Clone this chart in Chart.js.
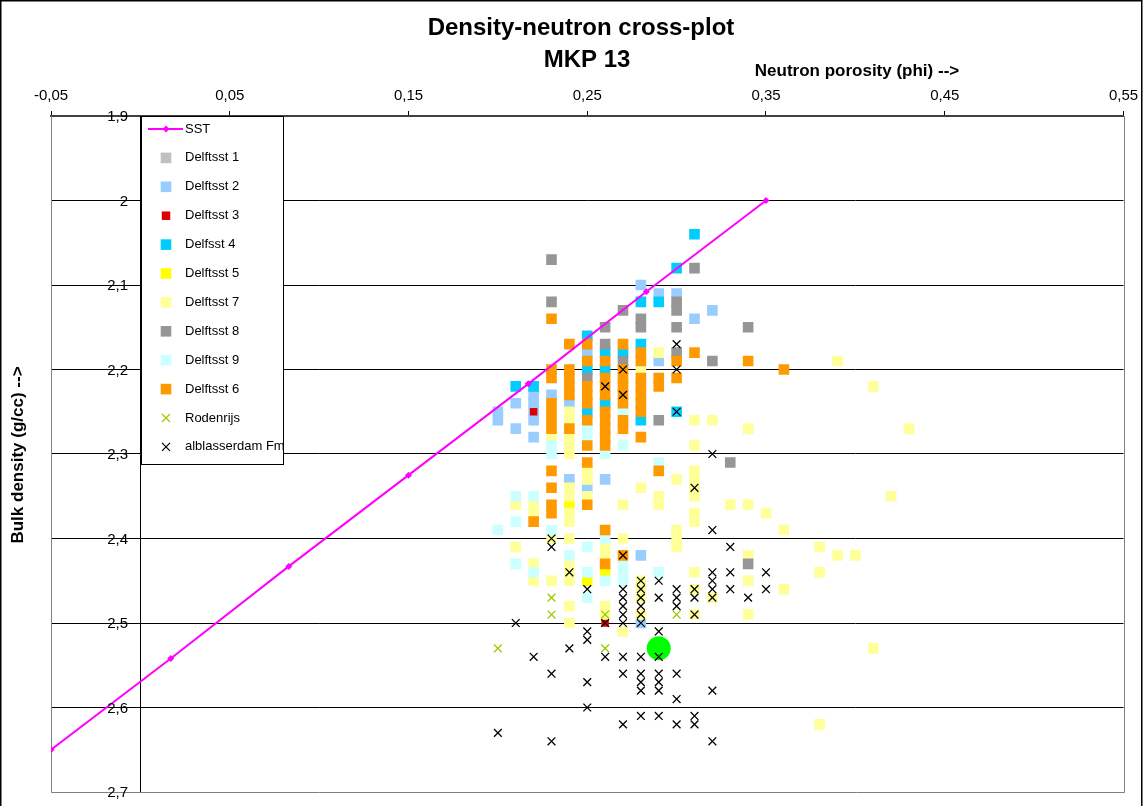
<!DOCTYPE html>
<html>
<head>
<meta charset="utf-8">
<title>Density-neutron cross-plot MKP 13</title>
<script src="https://cdn.jsdelivr.net/npm/chart.js@4.4.1/dist/chart.umd.min.js"></script>
<style>
  html, body { margin: 0; padding: 0; background: #fff; }
  #wrap { position: relative; width: 1146px; height: 806px; }
</style>
</head>
<body>
<div id="wrap"><canvas id="chart" width="1146" height="806"></canvas></div>
<script>
const FONT = '"Liberation Sans", Arial, sans-serif';

// axis ticks
const xTicks = [-0.05, 0.05, 0.15, 0.25, 0.35, 0.45, 0.55];
const xTickLabels = ['-0,05', '0,05', '0,15', '0,25', '0,35', '0,45', '0,55'];
const yTicks = [1.9, 2.0, 2.1, 2.2, 2.3, 2.4, 2.5, 2.6, 2.7];
const yTickLabels = ['1,9', '2', '2,1', '2,2', '2,3', '2,4', '2,5', '2,6', '2,7'];

// sandstone line
const sstX = [-0.05, 0.017, 0.083, 0.15, 0.217, 0.283, 0.35];
const sstY = [2.65, 2.542, 2.433, 2.325, 2.217, 2.108, 2.0];

// samples [phi, rhob]
const delftsst1 = [];
const delftsst2 = [[0.20,2.25],[0.20,2.26],[0.21,2.24],[0.21,2.27],[0.22,2.23],[0.22,2.24],[0.22,2.25],[0.22,2.26],
  [0.22,2.28],[0.23,2.23],[0.24,2.24],[0.24,2.33],[0.25,2.18],[0.25,2.34],[0.26,2.33],[0.28,2.10],[0.28,2.42],
  [0.28,2.50],[0.29,2.11],[0.29,2.19],[0.30,2.11],[0.31,2.14],[0.32,2.13]];
const delftsst3 = [[0.22,2.25],[0.26,2.50]];
const delfsst4 = [[0.21,2.22],[0.22,2.22],[0.25,2.16],[0.25,2.20],[0.25,2.25],[0.26,2.18],[0.26,2.20],[0.26,2.24],
  [0.27,2.18],[0.28,2.12],[0.28,2.17],[0.28,2.26],[0.29,2.12],[0.30,2.08],[0.30,2.25],[0.31,2.04]];
const delftsst5 = [[0.24,2.36],[0.25,2.45],[0.26,2.44]];
const delftsst7 = [[0.21,2.36],[0.21,2.41],[0.22,2.36],[0.22,2.37],[0.22,2.43],[0.22,2.45],[0.23,2.28],[0.23,2.40],
  [0.23,2.45],[0.24,2.25],[0.24,2.26],[0.24,2.28],[0.24,2.29],[0.24,2.30],[0.24,2.34],[0.24,2.35],[0.24,2.37],
  [0.24,2.38],[0.24,2.40],[0.24,2.43],[0.24,2.44],[0.24,2.45],[0.24,2.48],[0.24,2.50],[0.25,2.32],[0.25,2.33],
  [0.25,2.35],[0.26,2.41],[0.26,2.42],[0.26,2.48],[0.26,2.49],[0.27,2.36],[0.27,2.40],[0.27,2.51],[0.28,2.20],
  [0.28,2.34],[0.28,2.45],[0.28,2.46],[0.28,2.47],[0.28,2.49],[0.29,2.18],[0.29,2.35],[0.29,2.36],[0.30,2.33],
  [0.30,2.39],[0.30,2.40],[0.30,2.41],[0.31,2.26],[0.31,2.29],[0.31,2.32],[0.31,2.33],[0.31,2.34],[0.31,2.35],
  [0.31,2.37],[0.31,2.38],[0.31,2.44],[0.31,2.46],[0.31,2.49],[0.32,2.26],[0.32,2.47],[0.33,2.36],[0.34,2.27],
  [0.34,2.36],[0.34,2.42],[0.34,2.45],[0.34,2.49],[0.35,2.37],[0.36,2.39],[0.36,2.46],[0.38,2.41],[0.38,2.44],
  [0.38,2.62],[0.39,2.19],[0.39,2.42],[0.40,2.42],[0.41,2.22],[0.41,2.53],[0.42,2.35],[0.43,2.27]];
const delftsst8 = [[0.23,2.07],[0.23,2.12],[0.25,2.21],[0.26,2.15],[0.26,2.17],[0.27,2.13],[0.27,2.19],[0.28,2.14],
  [0.28,2.15],[0.29,2.26],[0.30,2.12],[0.30,2.13],[0.30,2.15],[0.30,2.18],[0.31,2.08],[0.32,2.19],[0.33,2.31],
  [0.34,2.15],[0.34,2.43]];
const delftsst9 = [[0.20,2.39],[0.21,2.35],[0.21,2.38],[0.21,2.43],[0.22,2.35],[0.22,2.44],[0.23,2.29],[0.23,2.30],
  [0.23,2.39],[0.24,2.42],[0.25,2.27],[0.25,2.28],[0.25,2.41],[0.25,2.44],[0.25,2.47],[0.26,2.30],[0.26,2.40],
  [0.26,2.45],[0.27,2.25],[0.27,2.29],[0.27,2.43],[0.27,2.44],[0.27,2.45],[0.29,2.31],[0.29,2.44]];
const delftsst6 = [[0.22,2.38],[0.23,2.14],[0.23,2.20],[0.23,2.21],[0.23,2.24],[0.23,2.25],[0.23,2.26],[0.23,2.27],
  [0.23,2.32],[0.23,2.34],[0.23,2.36],[0.23,2.37],[0.24,2.17],[0.24,2.20],[0.24,2.21],[0.24,2.22],[0.24,2.23],
  [0.24,2.27],[0.25,2.17],[0.25,2.19],[0.25,2.22],[0.25,2.23],[0.25,2.24],[0.25,2.26],[0.25,2.29],[0.25,2.31],
  [0.25,2.36],[0.26,2.19],[0.26,2.21],[0.26,2.22],[0.26,2.23],[0.26,2.25],[0.26,2.26],[0.26,2.27],[0.26,2.28],
  [0.26,2.29],[0.26,2.39],[0.26,2.43],[0.27,2.17],[0.27,2.20],[0.27,2.21],[0.27,2.22],[0.27,2.23],[0.27,2.24],
  [0.27,2.26],[0.27,2.27],[0.27,2.42],[0.28,2.18],[0.28,2.19],[0.28,2.21],[0.28,2.22],[0.28,2.23],[0.28,2.24],
  [0.28,2.25],[0.28,2.28],[0.29,2.21],[0.29,2.22],[0.29,2.32],[0.30,2.19],[0.30,2.21],[0.31,2.18],[0.34,2.19],
  [0.36,2.20]];
const rodenrijs = [[0.20,2.53],[0.23,2.47],[0.23,2.49],[0.26,2.49],[0.26,2.53],[0.30,2.49]];
const alblasserdam = [[0.20,2.63],[0.21,2.50],[0.22,2.54],[0.23,2.40],[0.23,2.41],[0.23,2.56],[0.23,2.64],
  [0.24,2.44],[0.24,2.53],[0.25,2.46],[0.25,2.51],[0.25,2.52],[0.25,2.57],[0.25,2.60],[0.26,2.22],[0.26,2.50],
  [0.26,2.54],[0.27,2.20],[0.27,2.23],[0.27,2.42],[0.27,2.46],[0.27,2.47],[0.27,2.48],[0.27,2.49],[0.27,2.50],
  [0.27,2.54],[0.27,2.56],[0.27,2.62],[0.28,2.45],[0.28,2.46],[0.28,2.47],[0.28,2.48],[0.28,2.49],[0.28,2.50],
  [0.28,2.54],[0.28,2.56],[0.28,2.57],[0.28,2.58],[0.28,2.61],[0.29,2.45],[0.29,2.47],[0.29,2.51],[0.29,2.54],
  [0.29,2.56],[0.29,2.57],[0.29,2.58],[0.29,2.61],[0.30,2.17],[0.30,2.20],[0.30,2.25],[0.30,2.46],[0.30,2.47],
  [0.30,2.48],[0.30,2.56],[0.30,2.59],[0.30,2.62],[0.31,2.34],[0.31,2.46],[0.31,2.47],[0.31,2.49],[0.31,2.61],
  [0.31,2.62],[0.32,2.30],[0.32,2.39],[0.32,2.44],[0.32,2.45],[0.32,2.46],[0.32,2.47],[0.32,2.58],[0.32,2.64],
  [0.33,2.41],[0.33,2.44],[0.33,2.46],[0.34,2.47],[0.35,2.44],[0.35,2.46]];
const mkpPoint = [[0.29, 2.53]];

function pts(arr) { return arr.map(p => ({ x: p[0], y: p[1] })); }

function squares(label, data, color, order, r) {
  return {
    label, data: pts(data), order, legendShape: 'rect',
    pointStyle: 'rect', pointRadius: r || 7.5, pointHoverRadius: r || 7.5,
    backgroundColor: color, borderColor: color, borderWidth: 0
  };
}
function crosses(label, data, color, order) {
  return {
    label, data: pts(data), order, legendShape: 'cross',
    pointStyle: 'crossRot', pointRadius: 5.5, pointHoverRadius: 5.5,
    backgroundColor: color, borderColor: color, borderWidth: 1.3
  };
}

const datasets = [
  {
    label: 'SST', data: sstX.map((x, i) => ({ x, y: sstY[i] })), order: 0, legendShape: 'line',
    showLine: true, borderColor: '#FF00FF', backgroundColor: '#FF00FF', borderWidth: 2,
    pointStyle: 'rectRot', pointRadius: 3.5, pointHoverRadius: 3.5, pointBorderWidth: 0
  },
  squares('Delftsst 1', delftsst1, '#C0C0C0', 11),
  squares('Delftsst 2', delftsst2, '#99CCFF', 10),
  squares('Delftsst 3', delftsst3, '#DD0000', 9, 5.3),
  squares('Delfsst 4', delfsst4, '#00CCFF', 8),
  squares('Delftsst 5', delftsst5, '#FFFF00', 7),
  squares('Delftsst 7', delftsst7, '#FFFF99', 6),
  squares('Delftsst 8', delftsst8, '#969696', 5),
  squares('Delftsst 9', delftsst9, '#CCFFFF', 4),
  squares('Delftsst 6', delftsst6, '#FF9900', 3),
  crosses('Rodenrijs', rodenrijs, '#99CC00', 2),
  crosses('alblasserdam Fm', alblasserdam, '#000000', 1),
  {
    label: '', data: pts(mkpPoint), order: 12, legendShape: 'none',
    pointStyle: 'circle', pointRadius: 12, pointHoverRadius: 12,
    backgroundColor: '#00FF00', borderColor: '#00FF00', borderWidth: 0
  }
];

const framePlugin = {
  id: 'frame',
  beforeDatasetsDraw(chart) {
    const { ctx, chartArea: a } = chart;
    ctx.save();
    ctx.strokeStyle = '#808080';
    ctx.lineWidth = 1;
    ctx.beginPath();
    ctx.moveTo(Math.round(a.left) + 0.5, a.top);
    ctx.lineTo(Math.round(a.left) + 0.5, Math.round(a.bottom) + 0.5);
    ctx.lineTo(Math.round(a.right) + 0.5, Math.round(a.bottom) + 0.5);
    ctx.lineTo(Math.round(a.right) + 0.5, a.top);
    ctx.stroke();
    ctx.restore();
  },
  afterDraw(chart) {
    const ctx = chart.ctx;
    const yScale = chart.scales.y;
    ctx.save();
    // outer border
    ctx.strokeStyle = '#000';
    ctx.lineWidth = 1.5;
    ctx.strokeRect(0.75, 0.75, 1141, 830);

    // y tick labels, left of the axis that crosses at phi = 0
    ctx.fillStyle = '#000';
    ctx.font = '15px ' + FONT;
    ctx.textAlign = 'right';
    ctx.textBaseline = 'middle';
    yTicks.forEach((v, i) => {
      ctx.fillText(yTickLabels[i], 128, yScale.getPixelForValue(v) + 1);
    });

    // titles
    ctx.textAlign = 'center';
    ctx.font = 'bold 24px ' + FONT;
    ctx.fillText('Density-neutron cross-plot', 581, 28);
    ctx.fillText('MKP 13', 587, 60);
    ctx.font = 'bold 17px ' + FONT;
    ctx.fillText('Neutron porosity (phi) -->', 857, 71);
    ctx.save();
    ctx.translate(18, 455);
    ctx.rotate(-Math.PI / 2);
    ctx.fillText('Bulk density (g/cc) -->', 0, 0);
    ctx.restore();

    // legend box
    const bx = 141, by = 116, bw = 142, bh = 348;
    ctx.fillStyle = '#fff';
    ctx.fillRect(bx, by, bw, bh);
    ctx.strokeStyle = '#000';
    ctx.lineWidth = 1;
    ctx.strokeRect(bx + 0.5, by + 0.5, bw, bh);
    ctx.font = '13px ' + FONT;
    ctx.textAlign = 'left';
    let row = 0;
    chart.data.datasets.forEach(ds => {
      if (ds.legendShape === 'none') return;
      const y = 129 + row * 28.9;
      const mx = 166;
      ctx.fillStyle = ds.backgroundColor;
      ctx.strokeStyle = ds.borderColor;
      if (ds.legendShape === 'line') {
        ctx.lineWidth = 2;
        ctx.beginPath();
        ctx.moveTo(148, y);
        ctx.lineTo(183, y);
        ctx.stroke();
        ctx.beginPath();
        ctx.moveTo(mx, y - 3.5); ctx.lineTo(mx + 3.5, y); ctx.lineTo(mx, y + 3.5); ctx.lineTo(mx - 3.5, y);
        ctx.closePath();
        ctx.fill();
      } else if (ds.legendShape === 'rect') {
        const s = Math.max(ds.pointRadius * Math.SQRT2, 8.5);
        ctx.fillRect(mx - s / 2, y - s / 2, s, s);
      } else {
        ctx.lineWidth = 1.2;
        ctx.beginPath();
        ctx.moveTo(mx - 4, y - 4); ctx.lineTo(mx + 4, y + 4);
        ctx.moveTo(mx + 4, y - 4); ctx.lineTo(mx - 4, y + 4);
        ctx.stroke();
      }
      ctx.fillStyle = '#000';
      ctx.fillText(ds.label, 185, y);
      row++;
    });
    ctx.restore();
  }
};

new Chart(document.getElementById('chart'), {
  type: 'scatter',
  data: { datasets },
  options: {
    responsive: false,
    animation: false,
    events: [],
    layout: { padding: { left: 51, right: 22.5, top: 0, bottom: 14 } },
    plugins: {
      legend: { display: false },
      tooltip: { enabled: false },
      title: { display: false }
    },
    scales: {
      x: {
        type: 'linear',
        position: 'top',
        min: -0.05,
        max: 0.55,
        afterBuildTicks: axis => { axis.ticks = xTicks.map(v => ({ value: v })); },
        afterFit: axis => { axis.height = 116; },
        ticks: {
          autoSkip: false, maxRotation: 0, padding: 6, color: '#000',
          font: { family: FONT, size: 15 },
          callback: (v, i) => xTickLabels[i]
        },
        grid: { drawOnChartArea: false, tickLength: 5, color: '#000' },
        border: { display: true, color: '#404040', width: 2 }
      },
      y: {
        type: 'linear',
        reverse: true,
        min: 1.9,
        max: 2.7,
        position: { x: 0 },
        afterBuildTicks: axis => { axis.ticks = yTicks.map(v => ({ value: v })); },
        ticks: { display: false },
        grid: {
          color: c => (c.tick && (c.tick.value === 1.9 || c.tick.value === 2.7)) ? 'rgba(0,0,0,0)' : '#000',
          tickColor: '#000',
          tickLength: 4
        },
        border: { display: true, color: '#000', width: 1 }
      }
    }
  },
  plugins: [framePlugin]
});
</script>
</body>
</html>
